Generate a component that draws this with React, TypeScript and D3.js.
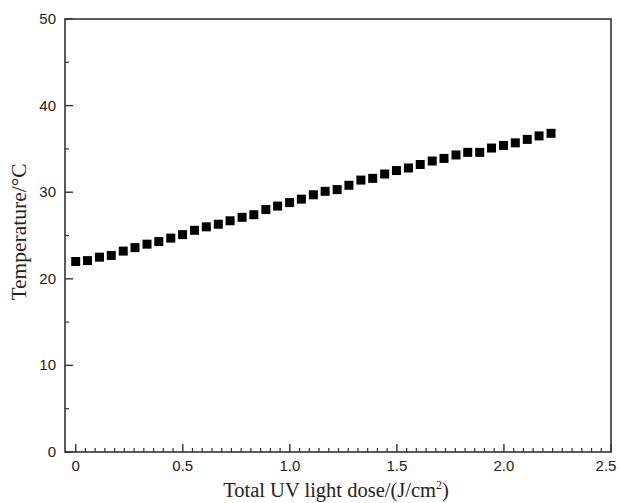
import React from "react";
import * as d3 from "d3";

const doses = [
  0.0, 0.055, 0.111, 0.166, 0.222, 0.277, 0.333, 0.388, 0.444, 0.499,
  0.555, 0.61, 0.666, 0.721, 0.777, 0.832, 0.888, 0.943, 0.999, 1.054,
  1.11, 1.165, 1.221, 1.276, 1.332, 1.387, 1.443, 1.498, 1.554, 1.609,
  1.665, 1.72, 1.776, 1.831, 1.887, 1.942, 1.998, 2.053, 2.109, 2.164, 2.22,
];
const temperatures = [
  22.0, 22.1, 22.5, 22.7, 23.2, 23.6, 24.0, 24.3, 24.7, 25.1,
  25.6, 26.0, 26.3, 26.7, 27.1, 27.4, 28.0, 28.4, 28.8, 29.2,
  29.7, 30.1, 30.3, 30.8, 31.4, 31.6, 32.1, 32.5, 32.8, 33.2,
  33.6, 33.9, 34.3, 34.6, 34.6, 35.1, 35.4, 35.7, 36.1, 36.5, 36.8,
];
const xTickLabels = ["0", "0.5", "1.0", "1.5", "2.0", "2.5"];
const xTickValues = [0, 0.5, 1.0, 1.5, 2.0, 2.5];
const yTickValues = [0, 10, 20, 30, 40, 50];
const xTitle = "Total UV light dose/(J/cm";
const yTitle = "Temperature/°C";

const W = 618;
const H = 503;
const left = 65;
const right = 611;
const top = 19;
const bottom = 452;

export default function App() {
  const x = d3.scaleLinear().domain([-0.05, 2.5]).range([left, right]);
  const y = d3.scaleLinear().domain([0, 50]).range([bottom, top]);

  const xMinor: number[] = [];
  for (let i = 0; i < xTickValues.length - 1; i++) {
    const a = xTickValues[i];
    const b = xTickValues[i + 1];
    for (let k = 1; k <= 10; k++) xMinor.push(a + ((b - a) * k) / 11);
  }
  const yMinor = [5, 15, 25, 35, 45];
  const axisColor = "#333";
  const sq = 9;

  return (
    <svg
      width={W}
      height={H}
      style={{ position: "absolute", left: 0, top: 0, background: "#fff" }}
    >
      <rect x={0} y={0} width={W} height={H} fill="#fff" />
      <rect
        x={left}
        y={top}
        width={right - left}
        height={bottom - top}
        fill="none"
        stroke={axisColor}
        strokeWidth={1.6}
      />
      {xTickValues.map((v, i) => (
        <g key={"xt" + i}>
          <line x1={x(v)} x2={x(v)} y1={bottom} y2={bottom - 8} stroke={axisColor} strokeWidth={1.4} />
          <text
            x={Math.min(x(v), W - 12)}
            y={bottom + 19}
            textAnchor="middle"
            fontFamily="Liberation Sans, Arial, sans-serif"
            fontSize={15}
            fill="#222"
          >
            {xTickLabels[i]}
          </text>
        </g>
      ))}
      {xMinor.map((v, i) => (
        <line key={"xm" + i} x1={x(v)} x2={x(v)} y1={bottom} y2={bottom - 4} stroke={axisColor} strokeWidth={1.2} />
      ))}
      {yTickValues.map((v, i) => (
        <g key={"yt" + i}>
          <line x1={left} x2={left + 8} y1={y(v)} y2={y(v)} stroke={axisColor} strokeWidth={1.4} />
          <text
            x={left - 9}
            y={y(v) + 5}
            textAnchor="end"
            fontFamily="Liberation Sans, Arial, sans-serif"
            fontSize={15}
            fill="#222"
          >
            {v}
          </text>
        </g>
      ))}
      {yMinor.map((v, i) => (
        <line key={"ym" + i} x1={left} x2={left + 4} y1={y(v)} y2={y(v)} stroke={axisColor} strokeWidth={1.2} />
      ))}
      {doses.map((d, i) => (
        <rect
          key={"p" + i}
          x={x(d) - sq / 2}
          y={y(temperatures[i]) - sq / 2}
          width={sq}
          height={sq}
          fill="#000"
        />
      ))}
      <text
        x={336}
        y={497}
        textAnchor="middle"
        fontFamily="Liberation Serif, Times New Roman, serif"
        fontSize={20.5}
        fill="#222"
      >
        {xTitle}
        <tspan dy={-8} fontSize={12}>2</tspan>
        <tspan dy={8}>)</tspan>
      </text>
      <text
        transform={`translate(26, 232) rotate(-90)`}
        textAnchor="middle"
        fontFamily="Liberation Serif, Times New Roman, serif"
        fontSize={21.5}
        fill="#222"
      >
        {yTitle}
      </text>
    </svg>
  );
}
